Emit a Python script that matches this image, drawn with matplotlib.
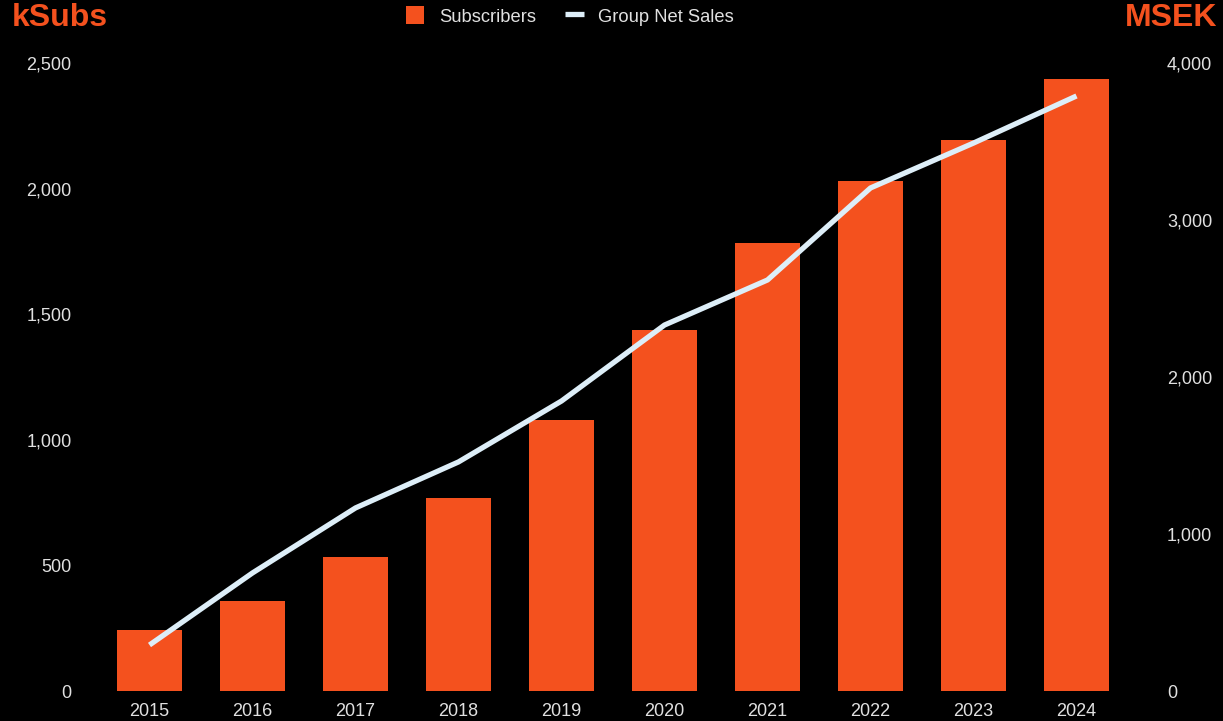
import matplotlib.pyplot as plt
from matplotlib.ticker import FuncFormatter

years = ['2015', '2016', '2017', '2018', '2019', '2020', '2021', '2022', '2023', '2024']
subscribers = [243, 358, 533, 768, 1079, 1437, 1783, 2030, 2193, 2436]   # kSubs
net_sales = [293, 752, 1166, 1459, 1847, 2331, 2618, 3204, 3490, 3790]   # MSEK

orange = '#F4511E'
line_col = '#DDEEF8'
txt = '#E0E0E0'

plt.rcParams['font.family'] = ['Liberation Sans', 'DejaVu Sans']

fig = plt.figure(figsize=(12.23, 7.21), dpi=100)
fig.set_facecolor('black')
ax = fig.add_axes([98 / 1223, 30 / 721, 1030 / 1223, 628 / 721])
ax.set_facecolor('black')
ax2 = ax.twinx()

x = list(range(len(years)))
bars = ax.bar(x, subscribers, width=0.64, color=orange, label='Subscribers', zorder=2)
ln, = ax2.plot(x, net_sales, color=line_col, lw=3.8, solid_capstyle='butt', label='Group Net Sales', zorder=3)

ax.set_xlim(-0.5, 9.5)
ax.set_ylim(0, 2500)
ax2.set_ylim(0, 4000)
ax.set_yticks([0, 500, 1000, 1500, 2000, 2500])
ax2.set_yticks([0, 1000, 2000, 3000, 4000])
ax.set_xticks(x)
ax.set_xticklabels(years)

fmt = FuncFormatter(lambda v, p: f'{int(v):,}')
ax.yaxis.set_major_formatter(fmt)
ax2.yaxis.set_major_formatter(fmt)

for a in (ax, ax2):
    for s in a.spines.values():
        s.set_visible(False)
    a.tick_params(length=0, colors=txt, labelsize=13)
ax.tick_params(axis='y', pad=19)
ax2.tick_params(axis='y', pad=28)
ax.tick_params(axis='x', pad=9)

# axis unit titles
fig.text(12 / 1223, 1 - 18 / 721, 'kSubs', color=orange, fontsize=23, fontweight='bold', va='center', ha='left')
fig.text(1 - 6 / 1223, 1 - 18 / 721, 'MSEK', color=orange, fontsize=23, fontweight='bold', va='center', ha='right')

leg = fig.legend([bars, ln], ['Subscribers', 'Group Net Sales'], loc='center',
                 bbox_to_anchor=(570 / 1223, 1 - 16 / 721), ncol=2, frameon=False,
                 fontsize=13.2, labelcolor=txt, handlelength=1.0, handleheight=1.1,
                 columnspacing=1.6, handletextpad=0.8)

fig.savefig('out.png', dpi=100, facecolor='black')
